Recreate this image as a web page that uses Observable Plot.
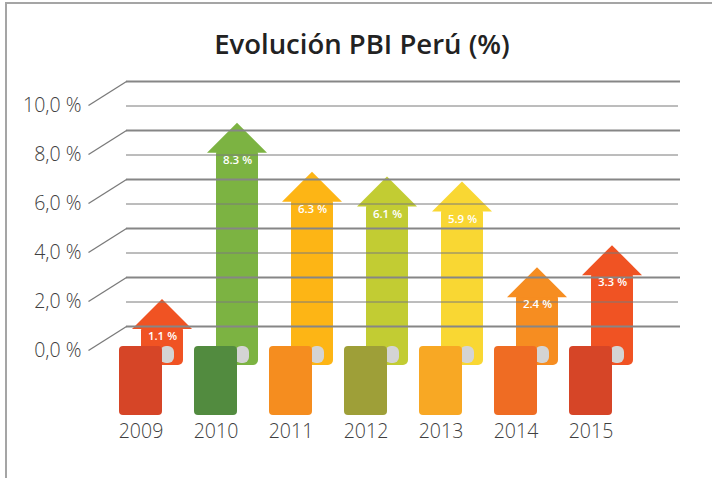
<!DOCTYPE html>
<html><head><meta charset="utf-8">
<script src="https://cdn.jsdelivr.net/npm/d3@7"></script>
<script src="https://cdn.jsdelivr.net/npm/@observablehq/plot@0.6"></script>
<style>
body{margin:0;background:#fff;}
#wrap{position:relative;width:712px;height:478px;overflow:hidden;font-family:"Open Sans",sans-serif;}
#frame{position:absolute;left:5px;top:2px;width:800px;height:600px;border-left:2px solid #a5a5a5;border-top:2px solid #a5a5a5;}
#title{position:absolute;left:6px;width:712px;top:25px;text-align:center;font-size:27.5px;font-weight:600;color:#222;line-height:38px;}
#chart{position:absolute;left:0;top:0;}
</style></head><body>
<div id="wrap"><div id="frame"></div><div id="chart"></div><div id="title">Evolución PBI Perú (%)</div></div>
<script>
const years = [2009, 2010, 2011, 2012, 2013, 2014, 2015];
const values = [1.1, 8.3, 6.3, 6.1, 5.9, 2.4, 3.3];
const valueLabels = ["1.1 %", "8.3 %", "6.3 %", "6.1 %", "5.9 %", "2.4 %", "3.3 %"];
const arrowColors = ["#F05323", "#7CB342", "#FDB515", "#C2CC33", "#F9D733", "#F68D21", "#F05323"];
const flagColors = ["#D64527", "#528B3F", "#F58D1F", "#9E9F38", "#F8A824", "#EF6C23", "#D64527"];
const yTicks = [0, 2, 4, 6, 8, 10];
const yMinor = [1, 3, 5, 7, 9];

// geometry in data units (x: 1 unit = one year slot, y: percent)
const PX_X = 1 / 75, PX_Y = 1 / 24.5;
const headHalf = 30 * PX_X, bodyHalf = 21 * PX_X, headH = 30 * PX_Y;
const bodyBottom = -39 * PX_Y;
const flagW = 43 * PX_X, flagTop = -20 * PX_Y, flagBottom = -89 * PX_Y;
const curlW = 12 * PX_X, curlBottom = -37 * PX_Y;
const xLeft = 2008.52, xRight = 2015 + 68 / 75;

const data = years.map((year, i) => ({year, value: values[i], label: valueLabels[i], arrow: arrowColors[i], flag: flagColors[i]}));
const heads = data.flatMap(d => [
  {year: d.year, x: d.year - headHalf, y1: d.value - headH, y2: d.value - headH, fill: d.arrow},
  {year: d.year, x: d.year, y1: d.value - headH, y2: d.value, fill: d.arrow},
  {year: d.year, x: d.year + headHalf, y1: d.value - headH, y2: d.value - headH, fill: d.arrow}
]);

const chart = Plot.plot({
  width: 712, height: 478,
  marginLeft: 126, marginRight: 32, marginTop: 81, marginBottom: 152,
  x: {domain: [xLeft, xRight]},
  y: {domain: [0, 10]},
  color: {type: "identity"},
  style: {fontFamily: "Open Sans, sans-serif", color: "#404040", background: "transparent", overflow: "visible"},
  marks: [
    Plot.rect(data, {x1: d => d.year - bodyHalf, x2: d => d.year + bodyHalf, y1: bodyBottom, y2: d => d.value - headH + 0.15, fill: "arrow", rx: 5}),
    Plot.areaY(heads, {x: "x", y1: "y1", y2: "y2", z: "year", fill: "fill", curve: "linear"}),
    Plot.ruleY(yMinor, {stroke: "#7a7a7a", strokeWidth: 1, x1: xLeft, x2: xRight - 2 / 75}),
    Plot.ruleY(yTicks, {stroke: "#868686", strokeWidth: 1.8}),
    Plot.link(yTicks, {x1: () => xLeft - 38 * PX_X, y1: d => d - 24 * PX_Y, x2: () => xLeft, y2: d => d, stroke: "#7a7a7a", strokeWidth: 1.3}),
    Plot.rect(data, {x1: d => d.year - 2 * PX_X, x2: d => d.year + curlW, y1: curlBottom, y2: flagTop, fill: "#D4D4D4", rx: 6}),
    Plot.rect(data, {x1: d => d.year - flagW, x2: d => d.year, y1: flagBottom, y2: flagTop, fill: "flag", rx: 4}),
    Plot.text(data, {x: "year", y: d => d.value - headH - 7 * PX_Y, text: "label", fill: "white", fontSize: 11.5, fontWeight: 600}),
    Plot.axisY(yTicks, {anchor: "left", tickSize: 0, tickPadding: 0, dx: -45, dy: 24, fontSize: 19.5, fontWeight: 300, tickFormat: d => d.toFixed(1).replace(".", ",") + " %"}),
    Plot.axisX(years, {anchor: "bottom", tickSize: 0, tickPadding: 0, dx: -21.5, dy: 98, fontSize: 19.5, fontWeight: 300, tickFormat: d => String(d)})
  ]
});
document.getElementById("chart").appendChild(chart);
</script>
</body></html>
